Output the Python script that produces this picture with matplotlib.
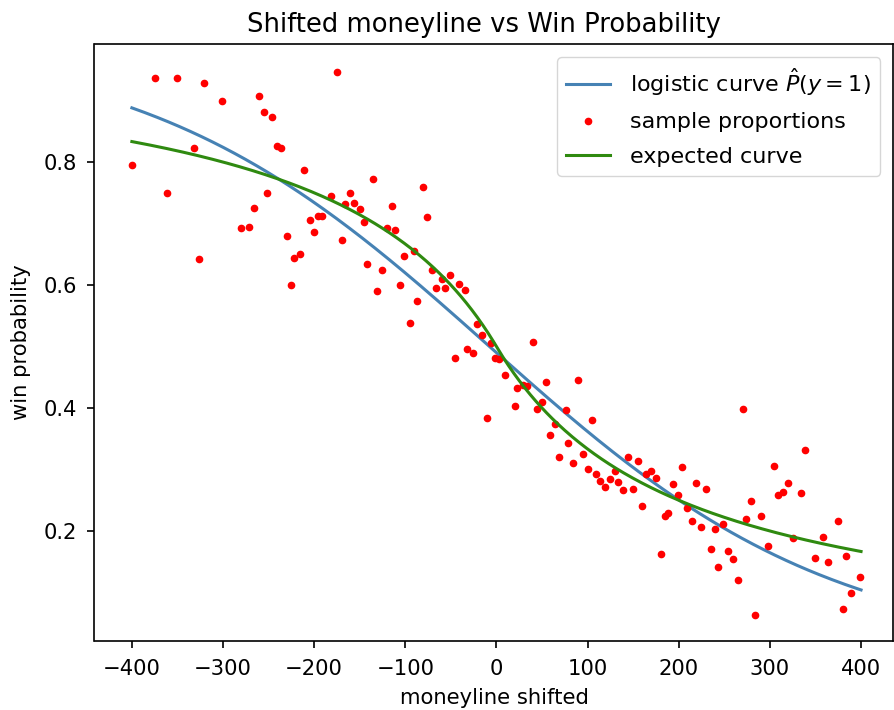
import numpy as np
import matplotlib
matplotlib.use("Agg")
import matplotlib.pyplot as plt

# sample proportions (shifted moneyline, observed win proportion)
sample_x = [-400, -375, -351, -321, -301, -260, -255, -246, -175, -332,
            -362, -241, -236, -211, -252, -266, -280, -271, -326, -230,
            -222, -216, -225, -181, -161, -166, -156, -150, -145, -205,
            -196, -191, -200, -170, -142, -136, -81, -115, -76, -120,
            -111, -126, -131, -101, -90, -106, -87, -95, -71, -60,
            -51, -66, -56, -41, -35, -21, -16, -6, -32, -26,
            -46, -2, 3, 40, 9, 23, 29, 34, 54, 20,
            50, 45, -10, 64, 59, 69, 89, 76, 105, 79,
            84, 95, 100, 109, 114, 119, 125, 130, 133, 139,
            144, 155, 150, 164, 170, 175, 160, 204, 194, 199,
            219, 230, 185, 188, 209, 215, 224, 240, 249, 180,
            235, 243, 254, 260, 270, 339, 304, 320, 309, 314,
            334, 279, 274, 290, 375, 358, 325, 298, 350, 364,
            384, 265, 399, 389, 380, 284]
sample_p = [0.795, 0.936, 0.936, 0.928, 0.899, 0.907, 0.881, 0.873, 0.947, 0.823,
            0.750, 0.826, 0.823, 0.787, 0.750, 0.726, 0.692, 0.695, 0.642, 0.679,
            0.644, 0.650, 0.600, 0.745, 0.750, 0.732, 0.734, 0.724, 0.702, 0.705,
            0.713, 0.713, 0.687, 0.674, 0.634, 0.773, 0.760, 0.729, 0.711, 0.692,
            0.689, 0.624, 0.590, 0.647, 0.656, 0.600, 0.574, 0.538, 0.624, 0.610,
            0.616, 0.595, 0.595, 0.601, 0.592, 0.537, 0.519, 0.505, 0.496, 0.490,
            0.482, 0.481, 0.479, 0.508, 0.453, 0.432, 0.438, 0.436, 0.443, 0.403,
            0.409, 0.398, 0.383, 0.374, 0.356, 0.320, 0.446, 0.396, 0.380, 0.343,
            0.311, 0.325, 0.301, 0.293, 0.282, 0.272, 0.285, 0.298, 0.280, 0.266,
            0.320, 0.314, 0.269, 0.292, 0.298, 0.286, 0.241, 0.304, 0.277, 0.259,
            0.278, 0.269, 0.225, 0.230, 0.237, 0.217, 0.206, 0.203, 0.212, 0.162,
            0.170, 0.141, 0.167, 0.154, 0.398, 0.332, 0.306, 0.278, 0.259, 0.264,
            0.261, 0.249, 0.220, 0.225, 0.217, 0.191, 0.188, 0.175, 0.156, 0.149,
            0.159, 0.120, 0.125, 0.099, 0.073, 0.064]

# fitted logistic model parameters
logit_intercept = -0.04
logit_slope = -0.00528

# curve range
curve_min, curve_max = -400, 400

xs = np.linspace(curve_min, curve_max, 400)
p_logistic = 1.0 / (1.0 + np.exp(-(logit_intercept + logit_slope * xs)))
# implied probability from shifted American moneyline
p_expected = np.where(xs < 0, (100 - xs) / (200 - xs), 100 / (200 + xs))

fig = plt.figure(figsize=(8.95, 7.10), dpi=100)
ax = fig.add_axes([94.5 / 895, 1 - 641 / 710, (893.5 - 94.5) / 895, (641 - 44) / 710])

ax.plot(xs, p_logistic, color="#4682B4", lw=2.2, label=r"logistic curve $\hat{P}(y=1)$")
ax.plot(sample_x, sample_p, "r.", markersize=9, label="sample proportions")
ax.plot(xs, p_expected, color="#2f8a10", lw=2.2, label="expected curve")

ax.set_xlim(-441, 435.6)
ax.set_ylim(0.0211, 0.992)
ax.set_xticks([-400, -300, -200, -100, 0, 100, 200, 300, 400])
ax.set_yticks([0.2, 0.4, 0.6, 0.8])
ax.tick_params(labelsize=15.2, length=5.25, width=1.2)
ax.tick_params(axis="x", pad=8)
ax.tick_params(axis="y", pad=7.5)
for s in ax.spines.values():
    s.set_linewidth(1.2)

ax.set_xlabel("moneyline shifted", fontsize=15.2, labelpad=6)
ax.set_ylabel("win probability", fontsize=15.2, labelpad=9)
ax.set_title("Shifted moneyline vs Win Probability", fontsize=18.6, pad=9, x=0.488)
ax.legend(loc="upper right", fontsize=16, borderaxespad=0.6, handletextpad=0.9,
          labelspacing=0.65)

fig.savefig("out.png", dpi=100)
